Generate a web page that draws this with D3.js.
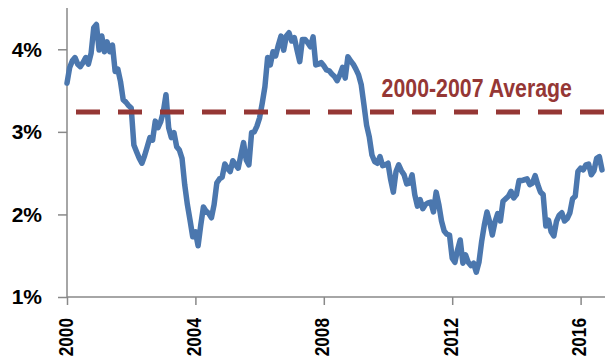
<!DOCTYPE html>
<html>
<head>
<meta charset="utf-8">
<script src="https://cdn.jsdelivr.net/npm/d3@7"></script>
<style>
  body { margin: 0; background: #fff; }
  svg { display: block; }
</style>
</head>
<body>
<svg id="chart" width="605" height="364"></svg>
<script>
// monthly values, Jan 2000 onwards (percent)
var startYear = 2000;
var rates = [
  3.59, 3.78, 3.86, 3.90, 3.82, 3.79, 3.84, 3.90, 3.82, 3.95, 4.26, 4.30,
  3.99, 4.16, 3.97, 4.09, 3.97, 4.05, 3.73, 3.76, 3.61, 3.39, 3.36, 3.32,
  3.29, 2.84, 2.76, 2.68, 2.62, 2.71, 2.82, 2.93, 2.90, 3.13, 3.05, 3.12,
  3.24, 3.45, 3.05, 2.93, 2.99, 2.82, 2.78, 2.68, 2.36, 2.12, 1.93, 1.73,
  1.79, 1.62, 1.87, 2.09, 2.04, 2.01, 1.96, 2.12, 2.38, 2.43, 2.45, 2.61,
  2.56, 2.52, 2.65, 2.60, 2.56, 2.72, 2.87, 2.66, 2.60, 2.99, 3.00, 3.07,
  3.17, 3.35, 3.55, 3.90, 3.81, 3.97, 3.92, 4.05, 4.16, 3.99, 4.16, 4.20,
  4.10, 4.14, 3.99, 3.85, 4.12, 4.12, 4.08, 4.03, 4.15, 3.81, 3.82, 3.84,
  3.80, 3.75, 3.74, 3.70, 3.67, 3.62, 3.69, 3.78, 3.65, 3.91, 3.86, 3.82,
  3.76, 3.69, 3.57, 3.33, 3.08, 2.94, 2.72, 2.64, 2.62, 2.70, 2.59, 2.60,
  2.62, 2.42, 2.27, 2.52, 2.60, 2.53, 2.48, 2.37, 2.38, 2.48, 2.24, 2.10,
  2.18, 2.07, 2.12, 2.14, 2.15, 2.03, 2.27, 2.12, 1.92, 1.80, 1.76, 1.75,
  1.47, 1.42, 1.57, 1.69, 1.41, 1.51, 1.42, 1.38, 1.41, 1.30, 1.42, 1.67,
  1.87, 2.03, 1.91, 1.75, 1.91, 2.01, 1.92, 2.16, 2.19, 2.22, 2.28, 2.20,
  2.24, 2.41, 2.41, 2.42, 2.43, 2.36, 2.38, 2.47, 2.36, 2.27, 2.24, 1.86,
  1.93, 1.79, 1.74, 1.92, 1.99, 2.02, 1.92, 1.95, 2.02, 2.19, 2.22, 2.52,
  2.56, 2.54, 2.60, 2.61, 2.48, 2.53, 2.68, 2.70, 2.54
];
var average = 3.24;
var averageLabel = "2000-2007 Average";
var yTicks = [1, 2, 3, 4];
var xTicks = [2000, 2004, 2008, 2012, 2016];

var svg = d3.select("#chart");

var margin = {top: 8, right: 0, bottom: 67, left: 67};
var width = 605 - margin.left - margin.right;
var height = 364 - margin.top - margin.bottom;

var x = d3.scaleLinear()
  .domain([2000, 2016.76])
  .range([0, width]);

var y = d3.scaleLinear()
  .domain([1, 4.5])
  .range([height, 0]);

var plot = svg.append("g")
  .attr("transform", "translate(" + margin.left + "," + margin.top + ")");

// axes
var axisColor = "#898989";
var fontFam = "'Liberation Sans', Arial, sans-serif";

var yGroup = plot.append("g")
  .call(d3.axisLeft(y).tickValues(yTicks).tickSize(9).tickPadding(16)
    .tickFormat(function(d){ return d + "%"; }));
yGroup.select(".domain").remove();
yGroup.selectAll("line").attr("stroke", axisColor).attr("stroke-width", 1.5);
yGroup.selectAll("text")
  .style("font-family", fontFam)
  .style("font-weight", "bold")
  .style("font-size", "21px")
  .attr("fill", "#000");

var xGroup = plot.append("g")
  .attr("transform", "translate(0," + height + ")")
  .call(d3.axisBottom(x).tickValues(xTicks).tickSize(8).tickFormat(d3.format("d")));
xGroup.select(".domain").remove();
xGroup.selectAll("line").attr("stroke", axisColor).attr("stroke-width", 1.5);
xGroup.selectAll("text")
  .attr("transform", "translate(5,21) rotate(-90) scale(0.82,1)")
  .attr("x", 0).attr("y", 0).attr("dy", 0)
  .style("text-anchor", "end")
  .style("font-family", fontFam)
  .style("font-weight", "bold")
  .style("font-size", "21px")
  .attr("fill", "#000");

plot.append("line")
  .attr("x1", 0).attr("x2", 0)
  .attr("y1", 0).attr("y2", height)
  .attr("stroke", axisColor).attr("stroke-width", 1.5);
plot.append("line")
  .attr("x1", 0).attr("x2", width)
  .attr("y1", height).attr("y2", height)
  .attr("stroke", axisColor).attr("stroke-width", 1.5);

// main series
var line = d3.line()
  .x(function(d, i){ return x(startYear + i / 12); })
  .y(function(d){ return y(d); });

plot.append("path")
  .attr("d", line(rates))
  .attr("fill", "none")
  .attr("stroke", "#4b77ae")
  .attr("stroke-width", 5.5)
  .attr("stroke-linejoin", "round")
  .attr("stroke-linecap", "round");

// average line
plot.append("line")
  .attr("x1", x(2000)).attr("x2", width)
  .attr("y1", y(average)).attr("y2", y(average))
  .attr("stroke", "#953735")
  .attr("stroke-width", 5)
  .attr("stroke-dasharray", "24,18")
  .attr("stroke-dashoffset", 33);

plot.append("text")
  .attr("transform", "translate(" + x(2009.8) + "," + (y(average) - 15) + ") scale(0.82,1)")
  .style("font-family", fontFam)
  .style("font-weight", "bold")
  .style("font-size", "26px")
  .attr("fill", "#953735")
  .text(averageLabel);
</script>
</body>
</html>
